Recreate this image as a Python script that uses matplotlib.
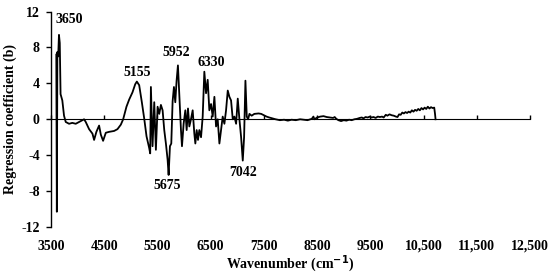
import matplotlib
matplotlib.use("Agg")
import matplotlib.pyplot as plt

wavenumber = [3600, 3610, 3620, 3635, 3650, 3665, 3680, 3713, 3745, 3777, 3840, 3900, 3965, 4028,
              4090, 4122, 4153, 4216, 4279, 4310, 4353, 4404, 4436, 4479, 4530, 4592, 4686, 4749,
              4812, 4856, 4918, 4969, 5031, 5082, 5113, 5157, 5207, 5251, 5295, 5345, 5364, 5377,
              5408, 5440, 5471, 5503, 5534, 5565, 5597, 5628, 5659, 5691, 5710, 5735, 5760, 5785,
              5810, 5835, 5860, 5885, 5910, 5942, 5961, 5992, 6024, 6049, 6074, 6099, 6130, 6162,
              6193, 6212, 6237, 6262, 6287, 6319, 6350, 6381, 6413, 6444, 6475, 6507, 6538, 6570,
              6601, 6632, 6664, 6695, 6726, 6758, 6789, 6821, 6852, 6883, 6915, 6946, 6978, 7009,
              7040, 7072, 7103, 7128, 7153, 7178, 7203, 7229,
              7270, 7320, 7400, 7450, 7500, 7550, 7600, 7660, 7720, 7800, 7880, 7950, 8020, 8100,
              8180, 8250, 8320, 8400, 8430, 8450, 8500, 8560, 8620, 8680, 8740, 8800, 8830, 8860,
              8900, 8950, 9000, 9050, 9100, 9150, 9200, 9250, 9300, 9340, 9370, 9410, 9450, 9490,
              9520, 9560, 9600, 9640, 9680, 9720, 9750, 9790, 9820, 9860, 9900, 9940, 9980, 10010,
              10040, 10070, 10100, 10130, 10160, 10190, 10220, 10250, 10280, 10310, 10340, 10370,
              10400, 10430, 10460, 10490, 10520, 10550, 10580, 10610, 10640, 10670, 10700, 10715,
              10725]
coefficient = [7.2, -10.3, 7.5, 7.0, 9.4, 8.5, 2.8, 2.1, 0.4, -0.3, -0.5, -0.4, -0.5, -0.3,
               -0.1, 0.0, -0.3, -1.1, -1.6, -2.3, -1.4, -0.7, -1.7, -2.4, -1.5, -1.4, -1.3, -1.1,
               -0.6, 0.0, 1.4, 2.2, 3.0, 3.9, 4.2, 3.8, 1.9, 0.1, -1.9, -3.2, -3.8, 3.6,
               -3.0, 1.9, -3.4, 1.4, 0.6, 1.6, 1.0, -1.2, -2.7, -4.5, -6.2, -3.0, -2.7, 2.0,
               3.6, 1.9, 4.3, 6.0, 2.9, -1.2, -3.0, -0.5, 1.0, -1.2, 1.2, -0.8, 0.0, 1.0,
               -1.6, -2.7, -1.2, -2.3, -1.2, -2.0, 0.3, 5.3, 2.9, 4.4, 1.0, 1.7, 0.3, 2.5,
               -0.8, 0.0, -2.7, -1.2, 0.3, -0.5, 1.0, 3.2, 2.5, 2.1, 0.0, 0.3, -0.5, 2.3,
               0.0, -2.0, -4.6, -2.0, 4.3, 0.3, 0.0, 0.6,
               0.4, 0.6, 0.65, 0.6, 0.45, 0.3, 0.2, 0.1, 0.0, -0.1, -0.05, -0.15, -0.05, -0.1,
               0.0, -0.05, -0.1, 0.05, 0.3, 0.0, 0.2, 0.3, 0.35, 0.25, 0.2, 0.15, 0.25, 0.05,
               -0.1, -0.2, -0.1, -0.15, -0.05, -0.1, 0.0, 0.05, 0.15, 0.2, 0.1, 0.25, 0.2, 0.3,
               0.2, 0.25, 0.15, 0.3, 0.25, 0.3, 0.2, 0.5, 0.4, 0.55, 0.45, 0.4, 0.3, 0.25,
               0.55, 0.5, 0.75, 0.65, 0.8, 0.7, 0.85, 0.75, 1.0, 0.85, 1.05, 0.95,
               1.15, 1.0, 1.25, 1.1, 1.3, 1.15, 1.4, 1.2, 1.35, 1.25, 1.3, 0.6,
               0.0]

peak_labels = ["3650", "5155", "5952", "6330", "5675", "7042"]
peak_label_x = [3850, 5120, 5854, 6513, 5685, 7110]
peak_label_y = [11.1, 5.2, 7.4, 6.3, -7.4, -5.9]

x_ticks = [3500, 4500, 5500, 6500, 7500, 8500, 9500, 10500, 11500, 12500]
x_tick_labels = ["3500", "4500", "5500", "6500", "7500", "8500", "9500",
                 "10,500", "11,500", "12,500"]
y_ticks = [-12, -8, -4, 0, 4, 8, 12]

plt.rcParams['font.family'] = ['Liberation Serif', 'DejaVu Serif']
plt.rcParams['font.weight'] = 'bold'
FS = 10

fig = plt.figure(figsize=(5.5, 2.75), dpi=100)
ax = fig.add_axes([0.0927, 0.1745, 0.871, 0.7835])
ax.plot(wavenumber, coefficient, color='black', lw=1.3)

ax.set_xlim(3500, 12500)
ax.set_ylim(-12, 12)
ax.set_yticks(y_ticks)
ax.set_yticklabels([str(v) for v in y_ticks], fontsize=FS, fontweight='bold')
ax.set_xticks(x_ticks)
ax.set_xticklabels(x_tick_labels, fontsize=FS, fontweight='bold')
for s in ['top', 'right', 'bottom']:
    ax.spines[s].set_visible(False)
ax.spines['left'].set_linewidth(1.0)
ax.tick_params(axis='x', length=0, pad=9)
ax.tick_params(axis='y', direction='out', length=3.6, width=1.0, pad=4.5)

sec = ax.secondary_xaxis(0.5)
sec.set_xticks(x_ticks)
sec.set_xticklabels([])
sec.tick_params(direction='out', length=3, width=1.0)
sec.spines['bottom'].set_linewidth(1.0)

for t, x, y in zip(peak_labels, peak_label_x, peak_label_y):
    ax.text(x, y, t, ha='center', va='center', fontsize=FS, fontweight='bold')

ax.set_xlabel("Wavenumber (cm$^{\\mathbf{-1}}$)", fontsize=FS, fontweight='bold', labelpad=0.5)
ax.set_ylabel("Regression coefficient (b)", fontsize=FS, fontweight='bold')
ax.yaxis.set_label_coords(-0.071, 0.5)

fig.savefig("out.png", dpi=100)
